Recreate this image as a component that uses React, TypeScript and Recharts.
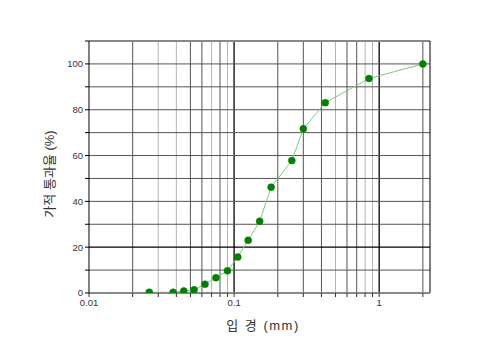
import { ComposedChart, Line, XAxis, YAxis, ReferenceLine, Label } from 'recharts';

// sieve sizes (mm) and percent passing
const sizes = [0.026, 0.038, 0.045, 0.053, 0.063, 0.075, 0.09, 0.106, 0.125, 0.15, 0.18, 0.25, 0.3, 0.425, 0.85, 2.0];
const passing = [0.3, 0.3, 0.9, 1.4, 3.8, 6.7, 9.7, 15.7, 23.0, 31.3, 46.2, 57.8, 71.7, 83.1, 93.6, 100];

const xTicks = [0.01, 0.02, 0.03, 0.04, 0.05, 0.06, 0.07, 0.08, 0.09, 0.1, 0.2, 0.3, 0.4, 0.5, 0.6, 0.7, 0.8, 0.9, 1, 2];
const xMajor = [0.01, 0.1, 1];
const yTicks = [0, 10, 20, 30, 40, 50, 60, 70, 80, 90, 100, 110];
const yLabeled = [0, 20, 40, 60, 80, 100];

const lightX = [0.03, 0.04, 0.07, 0.09, 0.5, 0.8, 0.9];

const data = sizes.map((s, i) => ({ size: s, pass: passing[i] }));

const font = "'Liberation Sans', Arial, 'Noto Sans CJK KR', sans-serif";

export default function App() {
  return (
    <div style={{ position: 'absolute', left: 0, top: 0, background: '#fff' }}>
      <ComposedChart width={500} height={351} data={data} margin={{ top: 41, right: 70, left: 0, bottom: 0 }}>
        {xTicks
          .filter(v => v > 0.01)
          .map(v => (
            <ReferenceLine
              key={'x' + v}
              x={v}
              stroke={xMajor.includes(v) ? '#000' : lightX.includes(v) ? '#b4b4b4' : '#555'}
              strokeWidth={xMajor.includes(v) ? 1.3 : 1}
            />
          ))}
        {yTicks
          .filter(v => v > 0 && v < 110)
          .map(v => (
            <ReferenceLine key={'y' + v} y={v} stroke={v === 20 ? '#000' : '#555'} strokeWidth={v === 20 ? 1.3 : 1} />
          ))}
        <ReferenceLine y={110} stroke={'#888'} strokeWidth={2} />
        <ReferenceLine x={2.24} stroke={'#000'} strokeWidth={1} />
        <XAxis
          dataKey={'size'}
          type={'number'}
          scale={'log'}
          domain={[0.01, 2.24]}
          allowDataOverflow
          ticks={xTicks}
          interval={0}
          height={58}
          tickSize={4}
          tickLine={{ stroke: '#333' }}
          axisLine={{ stroke: '#888', strokeWidth: 2 }}
          tickFormatter={(v: number) => (xMajor.includes(v) ? String(v) : '')}
          tick={{ fontSize: 9.5, fill: '#333', fontFamily: font }}
        >
          <Label
            content={() => (
              <text
                x={263}
                y={330}
                textAnchor={'middle'}
                fontSize={13}
                fill={'#333'}
                fontFamily={font}
                letterSpacing={1.5}
              >
                입 경 (mm)
              </text>
            )}
          />
        </XAxis>
        <YAxis
          type={'number'}
          domain={[0, 110]}
          allowDataOverflow
          ticks={yTicks}
          interval={0}
          width={89}
          tickSize={4}
          tickLine={{ stroke: '#000' }}
          axisLine={{ stroke: '#000' }}
          tickFormatter={(v: number) => (yLabeled.includes(v) ? String(v) : '')}
          tick={{ fontSize: 9.5, fill: '#333', fontFamily: font }}
        >
          <Label
            content={() => (
              <text
                x={54}
                y={174}
                textAnchor={'middle'}
                fontSize={13}
                fill={'#333'}
                fontFamily={font}
                transform={'rotate(-90 54 174)'}
              >
                가적 통과율 (%)
              </text>
            )}
          />
        </YAxis>
        <Line
          dataKey={'pass'}
          type={'linear'}
          stroke={'#7fc97f'}
          strokeWidth={1}
          dot={{ r: 3.5, fill: '#008000', stroke: '#008000', strokeWidth: 0.5 }}
          isAnimationActive={false}
        />
      </ComposedChart>
    </div>
  );
}
